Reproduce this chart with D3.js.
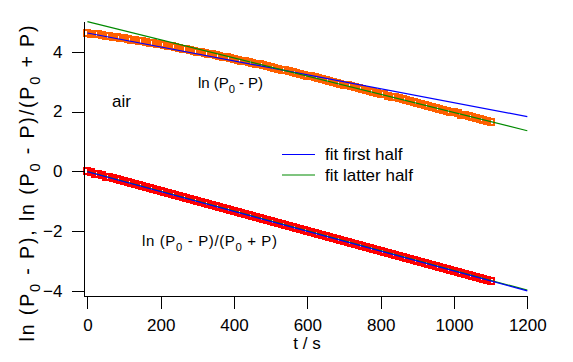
<!DOCTYPE html>
<html>
<head>
<meta charset="utf-8">
<script src="https://cdn.jsdelivr.net/npm/d3@7/dist/d3.min.js"></script>
<style>
  body { margin: 0; background: #fff; }
  svg { display: block; }
  text { font-family: "Liberation Sans", Arial, sans-serif; fill: #000; }
</style>
</head>
<body>
<svg width="573" height="362"></svg>
<script>
// time axis of the measurement (s)
const timeS = [0,10,20,30,40,50,60,70,80,90,100,110,120,130,140,150,160,170,180,190,
  200,210,220,230,240,250,260,270,280,290,300,310,320,330,340,350,360,370,380,390,
  400,410,420,430,440,450,460,470,480,490,500,510,520,530,540,550,560,570,580,590,
  600,610,620,630,640,650,660,670,680,690,700,710,720,730,740,750,760,770,780,790,
  800,810,820,830,840,850,860,870,880,890,900,910,920,930,940,950,960,970,980,990,
  1000,1010,1020,1030,1040,1050,1060,1070,1080,1090,1100];

// ln (P0 - P)
const lnDiff = [4.62,4.60,4.59,4.57,4.55,4.53,4.52,4.50,4.48,4.46,
  4.44,4.42,4.40,4.38,4.36,4.34,4.32,4.30,4.28,4.26,
  4.24,4.21,4.19,4.17,4.15,4.12,4.10,4.08,4.05,4.03,
  4.00,3.98,3.96,3.93,3.91,3.88,3.86,3.83,3.81,3.78,
  3.75,3.73,3.70,3.67,3.65,3.62,3.59,3.57,3.54,3.51,
  3.48,3.46,3.43,3.40,3.37,3.34,3.31,3.29,3.26,3.23,
  3.20,3.17,3.14,3.11,3.08,3.05,3.02,2.99,2.96,2.93,
  2.90,2.87,2.84,2.81,2.78,2.75,2.72,2.69,2.66,2.63,
  2.60,2.57,2.53,2.50,2.47,2.44,2.41,2.38,2.35,2.32,
  2.28,2.25,2.22,2.19,2.16,2.13,2.09,2.06,2.03,2.00,
  1.97,1.94,1.90,1.87,1.84,1.81,1.78,1.74,1.71,1.68,1.65];

// ln (P0 - P)/(P0 + P)
const lnRatio = [0.00,-0.03,-0.07,-0.10,-0.13,-0.17,-0.20,-0.23,-0.26,-0.30,
  -0.33,-0.36,-0.40,-0.43,-0.46,-0.50,-0.53,-0.56,-0.60,-0.63,
  -0.66,-0.70,-0.73,-0.76,-0.79,-0.83,-0.86,-0.89,-0.93,-0.96,
  -0.99,-1.03,-1.06,-1.09,-1.13,-1.16,-1.19,-1.22,-1.26,-1.29,
  -1.32,-1.36,-1.39,-1.42,-1.46,-1.49,-1.52,-1.56,-1.59,-1.62,
  -1.66,-1.69,-1.72,-1.75,-1.79,-1.82,-1.85,-1.89,-1.92,-1.95,
  -1.99,-2.02,-2.05,-2.09,-2.12,-2.15,-2.18,-2.22,-2.25,-2.28,
  -2.32,-2.35,-2.38,-2.42,-2.45,-2.48,-2.52,-2.55,-2.58,-2.61,
  -2.65,-2.68,-2.71,-2.75,-2.78,-2.81,-2.85,-2.88,-2.91,-2.95,
  -2.98,-3.01,-3.05,-3.08,-3.11,-3.14,-3.18,-3.21,-3.24,-3.28,
  -3.31,-3.34,-3.38,-3.41,-3.44,-3.48,-3.51,-3.54,-3.57,-3.61,-3.64];

// fit lines, end points
const fitT = [0, 1200];
const diffFirst = [4.62, 1.83];
const diffLatter = [5.00, 1.36];
const ratioFirst = [-0.01, -3.98];
const ratioLatter = [0.00, -3.96];

const xTicks = [0, 200, 400, 600, 800, 1000, 1200];
const yTicks = [-4, -2, 0, 2, 4];

const svg = d3.select('svg');
const xScale = d3.scaleLinear().domain([-12, 1200]).range([83, 527.3]);
const yScale = d3.scaleLinear().domain([-4.12, 5.02]).range([295, 21]);

// text with subscripts: parts = [[str, isSub], ...]
const richText = (sel, parts, size) => {
  let down = false;
  parts.forEach(p => {
    const sub = p[1];
    let dy = 0;
    if (sub && !down) dy = size * 0.3;
    if (!sub && down) dy = -size * 0.3;
    down = sub;
    sel.append('tspan')
      .attr('font-size', sub ? size * 0.75 : size)
      .attr('dy', dy)
      .text(p[0]);
  });
};

// markers (hollow squares)
const markers = (vals, color) => {
  svg.append('g').attr('shape-rendering', 'crispEdges')
    .selectAll('rect')
    .data(vals)
    .enter().append('rect')
    .attr('x', (d, i) => Math.round(xScale(timeS[i])) - 3)
    .attr('y', d => Math.round(yScale(d)) - 3)
    .attr('width', 6)
    .attr('height', 6)
    .attr('fill', 'none')
    .attr('stroke', color)
    .attr('stroke-width', 1.6);
};
markers(lnDiff, '#ff6000');
markers(lnRatio, '#ff0000');

// fit lines on top
const line = d3.line().x((d, i) => xScale(fitT[i])).y(d => yScale(d));
[[diffFirst, '#0000ff'], [diffLatter, '#008a00'], [ratioLatter, '#008a00'], [ratioFirst, '#0000ff']]
  .forEach(f => {
    svg.append('path').datum(f[0])
      .attr('d', line)
      .attr('fill', 'none')
      .attr('stroke', f[1])
      .attr('stroke-width', 1.2);
  });

// axes
const xAxis = svg.append('g')
  .attr('transform', 'translate(0,295.5)')
  .call(d3.axisBottom(xScale).tickValues(xTicks).tickFormat(d3.format('d'))
    .tickSizeInner(13).tickSizeOuter(0).tickPadding(10));
const yAxis = svg.append('g')
  .attr('transform', 'translate(83.5,0)')
  .call(d3.axisLeft(yScale).tickValues(yTicks).tickFormat(d3.format('d'))
    .tickSizeInner(12).tickSizeOuter(0).tickPadding(9));
[xAxis, yAxis].forEach(a => {
  a.attr('font-size', 17).attr('font-family', '"Liberation Sans", Arial, sans-serif');
  a.selectAll('path, line').attr('stroke', '#000').attr('stroke-width', 1).attr('shape-rendering', 'crispEdges');
  a.selectAll('text').attr('fill', '#000');
});

// axis titles
svg.append('text').attr('x', 307).attr('y', 349)
  .attr('text-anchor', 'middle').attr('font-size', 17).text('t / s');

const yTitle = svg.append('text')
  .attr('transform', 'translate(34,183.5) rotate(-90)')
  .attr('text-anchor', 'middle')
  .attr('textLength', 316).attr('lengthAdjust', 'spacing');
richText(yTitle, [['ln (P', false], ['0', true], [' - P), ln (P', false], ['0', true],
  [' - P)/(P', false], ['0', true], [' + P)', false]], 19.5);

// annotations
svg.append('text').attr('x', 112).attr('y', 107).attr('font-size', 17).text('air');
const lab1 = svg.append('text').attr('x', 198).attr('y', 88)
  .attr('textLength', 65).attr('lengthAdjust', 'spacing');
richText(lab1, [['ln (P', false], ['0', true], [' - P)', false]], 15);
const lab2 = svg.append('text').attr('x', 142).attr('y', 246)
  .attr('textLength', 135).attr('lengthAdjust', 'spacing');
richText(lab2, [['ln (P', false], ['0', true], [' - P)/(P', false], ['0', true], [' + P)', false]], 15);

// legend
const legendItems = ['fit first half', 'fit latter half'];
const legendColors = ['#0000ff', '#008a00'];
legendItems.forEach((name, i) => {
  const y = 154.5 + i * 20.5;
  svg.append('line').attr('x1', 282).attr('x2', 315).attr('y1', y).attr('y2', y)
    .attr('stroke', legendColors[i]).attr('stroke-width', 1.2);
  svg.append('text').attr('x', 325).attr('y', y + 5.5).attr('font-size', 17).text(name);
});
</script>
</body>
</html>
